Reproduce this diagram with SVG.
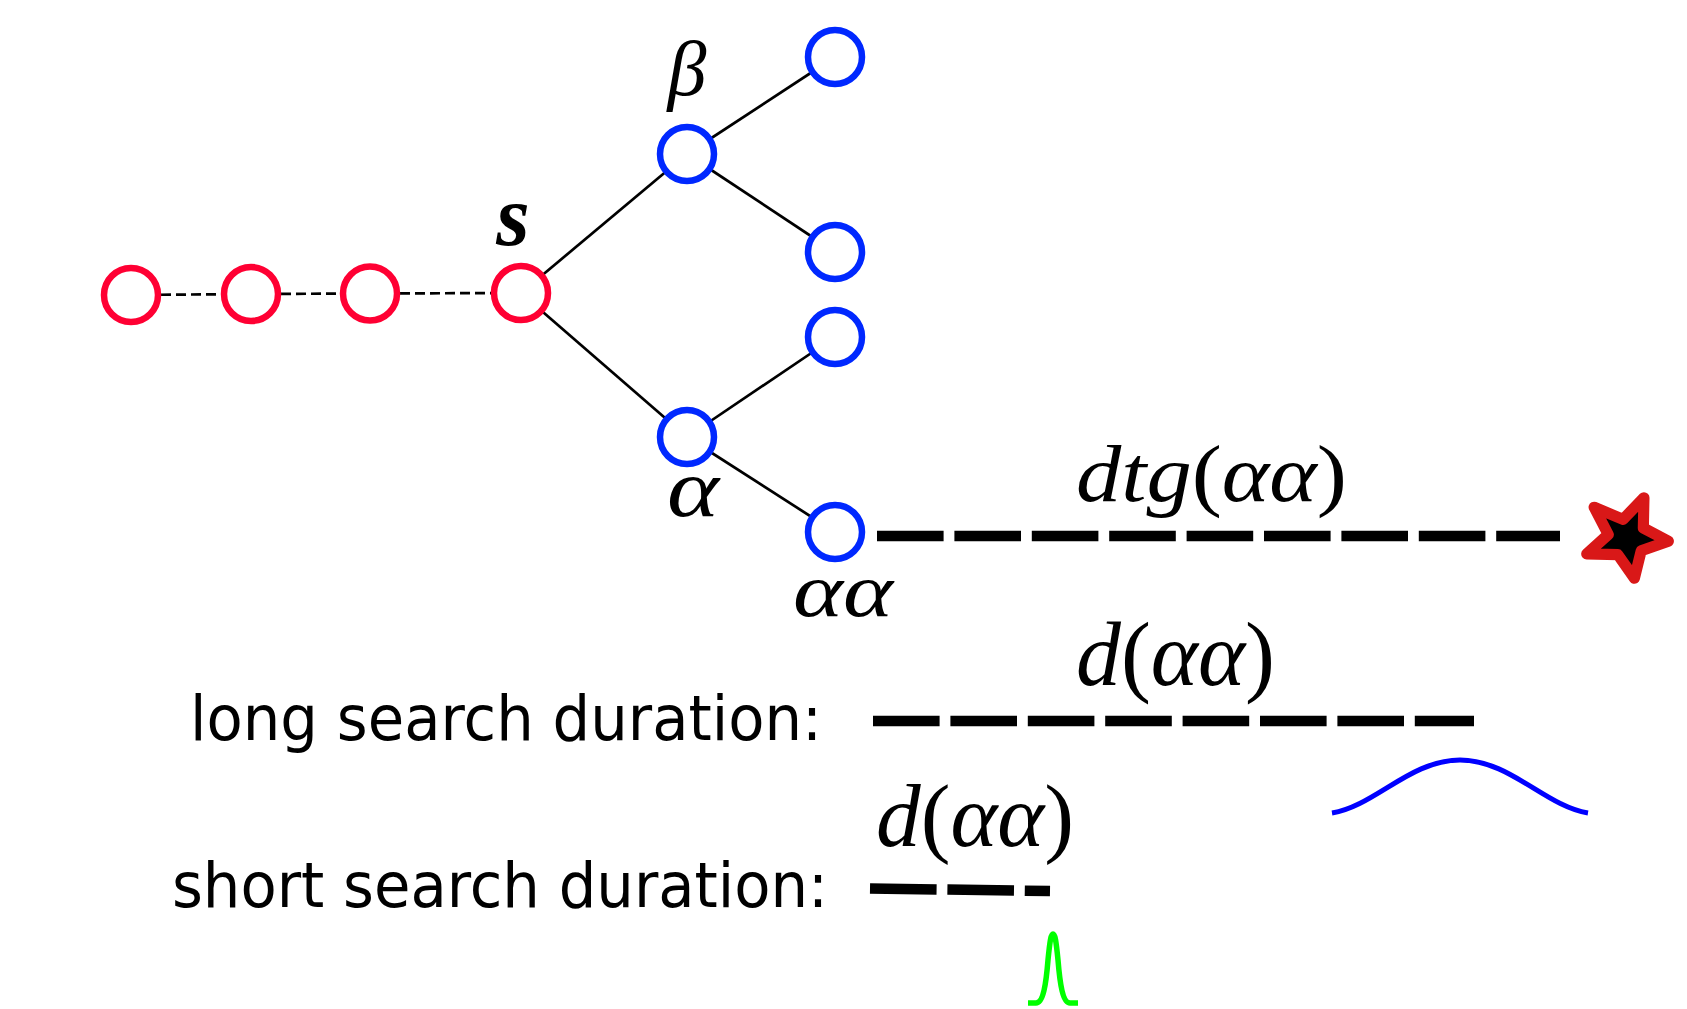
<svg xmlns="http://www.w3.org/2000/svg" width="1687" height="1009" viewBox="0 0 1687 1009">
  <style>
    .red { fill: #ffffff; stroke: #ff0033; stroke-width: 6.5; }
    .blue { fill: #ffffff; stroke: #0028ff; stroke-width: 6.5; }
    .edge { stroke: #000000; stroke-width: 2.7; fill: none; }
    .dash { stroke: #000000; stroke-width: 2.7; fill: none; stroke-dasharray: 10 5; }
    .bigdash { stroke: #000000; stroke-width: 10.5; fill: none; stroke-dasharray: 66.6 10.8; }
    .math { font-family: "Liberation Serif", "DejaVu Serif", serif; font-style: italic; fill: #000000; }
    .up { font-style: normal; }
    .label { font-family: "DejaVu Sans", "Liberation Sans", sans-serif; fill: #000000; }
  </style>
  <rect width="1687" height="1009" fill="#ffffff"/>

  <g id="connectors">
    <line class="dash" x1="131" y1="295" x2="251" y2="294"/>
    <line class="dash" x1="251" y1="294" x2="370" y2="293.5"/>
    <line class="dash" x1="370" y1="293.5" x2="521" y2="293"/>
    <line class="edge" x1="521" y1="293" x2="687" y2="154"/>
    <line class="edge" x1="521" y1="293" x2="687" y2="437"/>
    <line class="edge" x1="687" y1="154" x2="835" y2="57"/>
    <line class="edge" x1="687" y1="154" x2="835" y2="252"/>
    <line class="edge" x1="687" y1="437" x2="835" y2="337"/>
    <line class="edge" x1="687" y1="437" x2="835" y2="532"/>
    <line class="bigdash" x1="877" y1="536" x2="1560" y2="536"/>
    <line class="bigdash" x1="873" y1="721" x2="1474" y2="721"/>
    <line class="bigdash" x1="870" y1="888.5" x2="1050" y2="891"/>
  </g>

  <g id="node-r1"><circle class="red" cx="131" cy="295" r="27"/></g>
  <g id="node-r2"><circle class="red" cx="251" cy="294" r="27"/></g>
  <g id="node-r3"><circle class="red" cx="370" cy="293.5" r="27"/></g>
  <g id="node-s">
    <circle class="red" cx="521" cy="293" r="27"/>
    <text class="math" x="513" y="245" font-size="86" font-weight="bold" text-anchor="middle">s</text>
  </g>
  <g id="node-beta">
    <circle class="blue" cx="687" cy="154" r="27"/>
    <text class="math" x="687" y="95" font-size="78" text-anchor="middle">β</text>
  </g>
  <g id="node-b1"><circle class="blue" cx="835" cy="57" r="27"/></g>
  <g id="node-b2"><circle class="blue" cx="835" cy="252" r="27"/></g>
  <g id="node-a1"><circle class="blue" cx="835" cy="337" r="27"/></g>
  <g id="node-alpha">
    <circle class="blue" cx="687" cy="437" r="27"/>
    <text class="math" x="667" y="516" font-size="82" textLength="52" lengthAdjust="spacingAndGlyphs">α</text>
  </g>
  <g id="node-alphaalpha">
    <circle class="blue" cx="835" cy="532" r="27"/>
    <text class="math" x="793" y="616" font-size="76" textLength="100" lengthAdjust="spacingAndGlyphs">αα</text>
  </g>

  <g id="node-goal">
    <path transform="translate(1627 538) scale(1.06) translate(-1627 -538)" d="M1643,500 L1642.4,528.6 L1666,541 L1640.4,550 L1634,576 L1618.3,553.7 L1589,553 L1609.3,534.7 L1596,509 L1623.3,520.4 Z" fill="#000000" stroke="#d91818" stroke-width="10.5" stroke-linejoin="round"/>
  </g>

  <g id="label-dtg">
    <text class="math" x="1076" y="501" font-size="80" textLength="271" lengthAdjust="spacingAndGlyphs">dtg<tspan class="up">(</tspan>αα<tspan class="up">)</tspan></text>
  </g>
  <g id="label-d-long">
    <text class="math" x="1076" y="685" font-size="90" textLength="199" lengthAdjust="spacingAndGlyphs">d<tspan class="up">(</tspan>αα<tspan class="up">)</tspan></text>
  </g>
  <g id="label-d-short">
    <text class="math" x="876" y="846" font-size="88" textLength="198" lengthAdjust="spacingAndGlyphs">d<tspan class="up">(</tspan>αα<tspan class="up">)</tspan></text>
  </g>

  <g id="label-long">
    <text class="label" x="190" y="740" font-size="62" textLength="632" lengthAdjust="spacingAndGlyphs">long search duration:</text>
  </g>
  <g id="label-short">
    <text class="label" x="172" y="907" font-size="62" textLength="656" lengthAdjust="spacingAndGlyphs">short search duration:</text>
  </g>

  <g id="dist-long">
    <path d="M1332,813 C1375,806 1410,760 1460,760 C1510,760 1545,806 1588,813" fill="none" stroke="#0000ff" stroke-width="5"/>
  </g>
  <g id="dist-short">
    <path d="M1028,1003 L1036,1003 C1043,1003 1046,985 1048,960 C1050,940 1051,934 1053,934 C1055,934 1056,940 1058,960 C1060,985 1063,1003 1070,1003 L1078,1003" fill="none" stroke="#00ff00" stroke-width="5.5"/>
  </g>
</svg>
